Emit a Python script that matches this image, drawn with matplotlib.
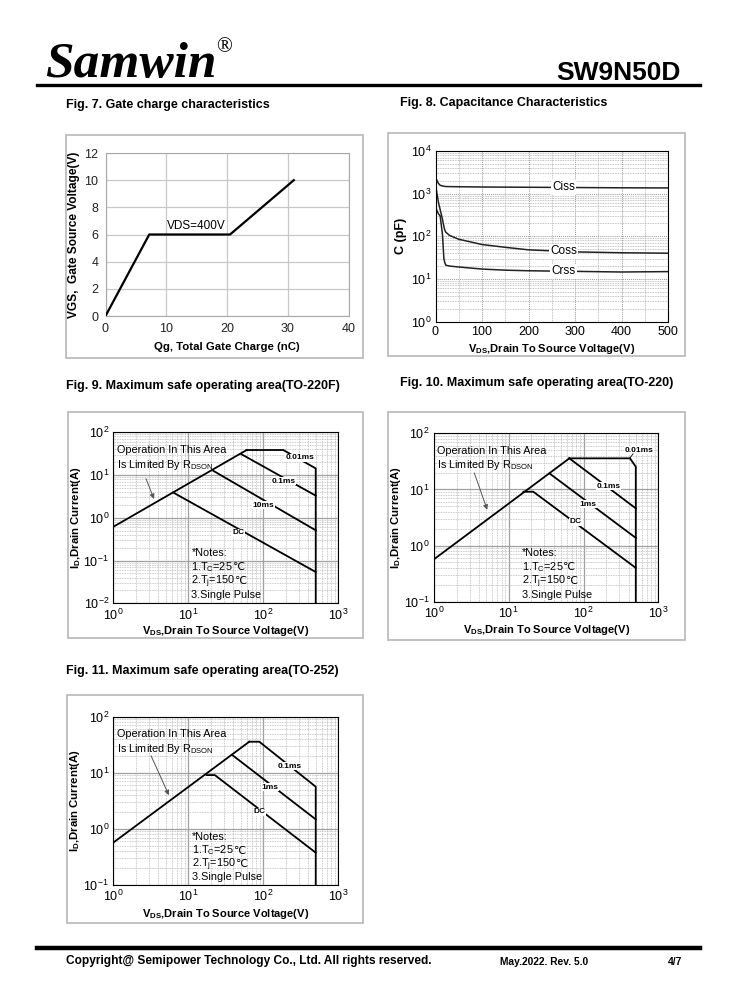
import matplotlib
matplotlib.use("Agg")
import matplotlib.pyplot as plt
from matplotlib.patches import Rectangle
from matplotlib.lines import Line2D
from matplotlib.ticker import LogLocator, NullFormatter, MultipleLocator

plt.rcParams["font.family"] = ["Liberation Sans", "DejaVu Sans"]
plt.rcParams["mathtext.fontset"] = "custom"
plt.rcParams["mathtext.rm"] = "Liberation Sans"
plt.rcParams["mathtext.it"] = "Liberation Sans:italic"
plt.rcParams["mathtext.bf"] = "Liberation Sans:bold"
plt.rcParams["axes.unicode_minus"] = False

# ── Fig.7 gate charge ──────────────────────────────────────────────
qg = [0, 7.2, 20.5, 31]
vgs = [0, 6, 6, 10]

# ── Fig.8 capacitance ──────────────────────────────────────────────
vds_c = [1, 3, 6, 10, 15, 18, 20, 22, 30, 50, 100, 150, 200, 300, 400, 500]
ciss = [2300, 2050, 1750, 1570, 1510, 1490, 1480, 1470, 1460, 1450, 1430, 1420, 1410, 1390, 1370, 1360]
coss = [1500, 1000, 650, 420, 250, 170, 140, 125, 105, 85, 64, 55, 48, 43, 41, 40]
crss = [470, 400, 340, 300, 110, 30, 24, 21, 20, 19, 17, 16, 15.5, 15, 14.5, 14.8]

# ── SOA curves (V, A) ──────────────────────────────────────────────
soa_220f = {
    "rds": ([1, 60], [0.615, 38.5]),
    "0.01ms": ([60, 185, 500, 500], [38.5, 38.5, 14.3, 0.01]),
    "0.1ms": ([51.4, 500], [30.5, 3.3]),
    "10ms": ([21.5, 500], [12.6, 0.51]),
    "DC": ([6.3, 500], [3.9, 0.054]),
}
soa_220 = {
    "rds": ([1, 64.6], [0.57, 35.8]),
    "0.01ms": ([64.6, 418, 500, 500], [35.8, 35.8, 25.4, 0.1]),
    "0.1ms": ([64.6, 500], [35.8, 4.6]),
    "1ms": ([35, 500], [19.3, 1.37]),
    "DC": ([15.7, 21.3, 500], [9.1, 9.1, 0.4]),
}
soa_252 = {
    "rds": ([1, 65], [0.57, 35.8]),
    "0.1ms": ([65, 88.5, 500, 500], [35.8, 35.8, 5.65, 0.1]),
    "1ms": ([38.5, 500], [20.8, 1.48]),
    "DC": ([17.6, 22.6, 500], [9.1, 9.1, 0.377]),
}
lbl_220f = [("0.01ms", 305, 25.5), ("0.1ms", 185, 7.2), ("10ms", 100, 1.98), ("DC", 46.4, 0.45)]
lbl_220 = [("0.01ms", 560, 50), ("0.1ms", 218, 11.5), ("1ms", 116, 5.5), ("DC", 78.6, 2.63)]
lbl_252 = [("0.1ms", 226, 13.2), ("1ms", 122, 5.5), ("DC", 88.5, 2.03)]

# notes: (text before ℃, has ℃)
NOTES = [("*Notes:", False),
         ("1.T$_\\mathrm{C}$=25", True),
         ("2.T$_\\mathrm{j}$=150", True),
         ("3.Single Pulse", False)]
AREA = "Operation In This Area\nIs Limited By R$_\\mathrm{DSON}$"

W, H = 738, 1000
fig = plt.figure(figsize=(W / 100, H / 100), dpi=100)


def rect(l, r, t, b):
    return [l / W, 1 - b / H, (r - l) / W, (b - t) / H]


def frame(l, r, t, b):
    fig.patches.append(Rectangle((l / W, 1 - b / H), (r - l) / W, (b - t) / H,
                                 transform=fig.transFigure, fill=False,
                                 ec="#b8b8b8", lw=1.2))


def ftext(x, y, s, **kw):
    fig.text(x / W, 1 - y / H, s, **kw)


def hline(x0, x1, y, lw):
    fig.add_artist(Line2D([x0 / W, x1 / W], [1 - y / H, 1 - y / H],
                          transform=fig.transFigure, color="black", lw=lw))


# header / footer
ftext(45, 77, "Samwin", family="Liberation Serif", style="italic",
      weight="bold", fontsize=37, va="baseline")
ftext(216, 52, "\u00ae", family="Liberation Serif", fontsize=15, va="baseline")
ftext(681, 80, "SW9N50D", weight="bold", fontsize=19, ha="right", va="baseline")
hline(37, 700, 84.5, 2.4)
hline(37, 700, 948, 3.2)
ftext(66, 961, "Copyright@ Semipower Technology Co., Ltd. All rights reserved.",
      weight="bold", fontsize=8.6, va="center")
ftext(500, 962, "May.2022. Rev. 5.0", weight="bold", fontsize=7.4, va="center")
ftext(668, 962, "4/7", weight="bold", fontsize=7.4, va="center")

# titles
ftext(66, 105, "Fig. 7. Gate charge characteristics", weight="bold", fontsize=9, va="center")
ftext(400, 103, "Fig. 8. Capacitance Characteristics", weight="bold", fontsize=9, va="center")
ftext(66, 386, "Fig. 9. Maximum safe operating area(TO-220F)", weight="bold", fontsize=9, va="center")
ftext(400, 383, "Fig. 10. Maximum safe operating area(TO-220)", weight="bold", fontsize=9, va="center")
ftext(66, 671, "Fig. 11. Maximum safe operating area(TO-252)", weight="bold", fontsize=9, va="center")

for box in [(66, 363, 135, 358), (388, 685, 133, 356), (68, 363, 412, 638),
            (388, 685, 412, 640), (67, 363, 695, 923)]:
    frame(*box)

# ── Fig.7 ──────────────────────────────────────────────────────────
ax = fig.add_axes(rect(105.5, 348.5, 153, 316))
ax.plot(qg, vgs, color="black", lw=1.6, zorder=3)
ax.set_xlim(0, 40)
ax.set_ylim(0, 12)
ax.xaxis.set_major_locator(MultipleLocator(10))
ax.yaxis.set_major_locator(MultipleLocator(2))
ax.grid(True, color="#c8c8c8", lw=0.9)
for s in ax.spines.values():
    s.set_color("#a8a8a8")
ax.tick_params(length=0, labelsize=9, pad=5, colors="#222222")
ax.text(15, 6.15, "VDS=400V", fontsize=8.5, ha="center", va="bottom")
ax.set_xlabel("Qg, Total Gate Charge (nC)", weight="bold", fontsize=8.2)
ax.set_ylabel("VGS,  Gate Source Voltage(V)", weight="bold", fontsize=8.6)
ax.xaxis.set_label_coords(0.5, -0.158)
ax.yaxis.set_label_coords(-0.105, 0.5)

# ── Fig.8 ──────────────────────────────────────────────────────────
ax = fig.add_axes(rect(435.5, 668, 151, 321.5))
ax.set_yscale("log")
ax.set_xlim(0, 500)
ax.set_ylim(1, 1e4)
ax.plot(vds_c, ciss, color="#222222", lw=1.1)
ax.plot(vds_c, coss, color="#222222", lw=1.1)
ax.plot(vds_c, crss, color="#222222", lw=1.1)
ax.xaxis.set_major_locator(MultipleLocator(100))
ax.xaxis.set_minor_locator(MultipleLocator(50))
ax.yaxis.set_minor_locator(LogLocator(base=10, subs=range(2, 10)))
ax.yaxis.set_minor_formatter(NullFormatter())
ax.grid(True, which="major", color="#9a9a9a", lw=0.7, ls=(0, (1, 1)))
ax.grid(True, which="minor", color="#b0b0b0", lw=0.6, ls=(0, (1, 1)))
ax.tick_params(which="both", length=0, labelsize=9, pad=3)
for name, y in [("Ciss", 1400), ("Coss", 44), ("Crss", 15)]:
    ax.text(275, y, name, fontsize=8.5, ha="center", va="center",
            bbox=dict(fc="white", ec="none", pad=1))
ax.set_xlabel("V$_\\mathbf{DS}$,Drain To Source Voltage(V)", weight="bold", fontsize=8)
ax.set_ylabel("C (pF)", weight="bold", fontsize=9)
ax.xaxis.set_label_coords(0.5, -0.118)
ax.yaxis.set_label_coords(-0.123, 0.5)


# ── SOA panels ─────────────────────────────────────────────────────
def soa(pos, curves, labels, ymin, arrow, notes_xy, ylab_x, xlab_y):
    ax = fig.add_axes(rect(*pos))
    ax.set_xscale("log")
    ax.set_yscale("log")
    ax.set_xlim(1, 1000)
    ax.set_ylim(ymin, 100)
    for xs, ys in curves.values():
        ax.plot(xs, ys, color="black", lw=1.3, zorder=3)
    for a in (ax.xaxis, ax.yaxis):
        a.set_minor_locator(LogLocator(base=10, subs=range(2, 10)))
        a.set_minor_formatter(NullFormatter())
    ax.grid(True, which="major", color="#a0a0a0", lw=0.9)
    ax.grid(True, which="minor", color="#b8b8b8", lw=0.6, ls=(0, (1, 1)))
    ax.tick_params(which="both", length=0, labelsize=9, pad=3)
    for name, x, y in labels:
        ax.text(x, y, name, fontsize=6, weight="bold", ha="center", va="center",
                zorder=4, bbox=dict(fc="white", ec="none", pad=0.4))
    ax.text(0.015, 0.925, AREA, transform=ax.transAxes, fontsize=7.8,
            va="top", zorder=4, linespacing=1.25)
    ax.annotate("", xy=arrow[1], xytext=arrow[0], zorder=4,
                arrowprops=dict(arrowstyle="-|>", color="#555555", lw=0.7,
                                mutation_scale=7))
    nx, nys = notes_xy
    for (txt, deg), ny in zip(NOTES, nys):
        t = ax.text(nx, ny, txt, transform=ax.transAxes, fontsize=7.8,
                    va="baseline", zorder=4)
        if deg:
            ax.annotate("\u2103", xy=(1, ny), xycoords=(t, ax.transAxes),
                        fontsize=7.8, va="baseline", ha="left", zorder=4)
    ax.set_xlabel("V$_\\mathbf{DS}$,Drain To Source Voltage(V)", weight="bold", fontsize=8)
    ax.set_ylabel("I$_\\mathbf{D}$,Drain Current(A)", weight="bold", fontsize=8.2)
    ax.xaxis.set_label_coords(0.5, xlab_y)
    ax.yaxis.set_label_coords(ylab_x, 0.5)
    return ax


soa((113.3, 338.3, 432.3, 603.3), soa_220f, lbl_220f, 0.01,
    ((2.64, 9.5), (3.6, 2.4)), (0.347, [0.277, 0.195, 0.113, 0.031]), -0.135, -0.121)

ax10 = soa((434, 658.3, 433.3, 601.7), soa_220, lbl_220, 0.1,
           ((3.36, 22), (5.3, 3.9)), (0.391, [0.271, 0.188, 0.105, 0.022]), -0.138, -0.125)
ax10.plot([460, 418], [43, 36.5], color="black", lw=0.6, zorder=4)

soa((113.3, 338.3, 716.7, 885), soa_252, lbl_252, 0.1,
    ((3.08, 22.3), (5.7, 3.6)), (0.351, [0.267, 0.187, 0.107, 0.027]), -0.14, -0.129)

fig.savefig("out.png", dpi=100)
